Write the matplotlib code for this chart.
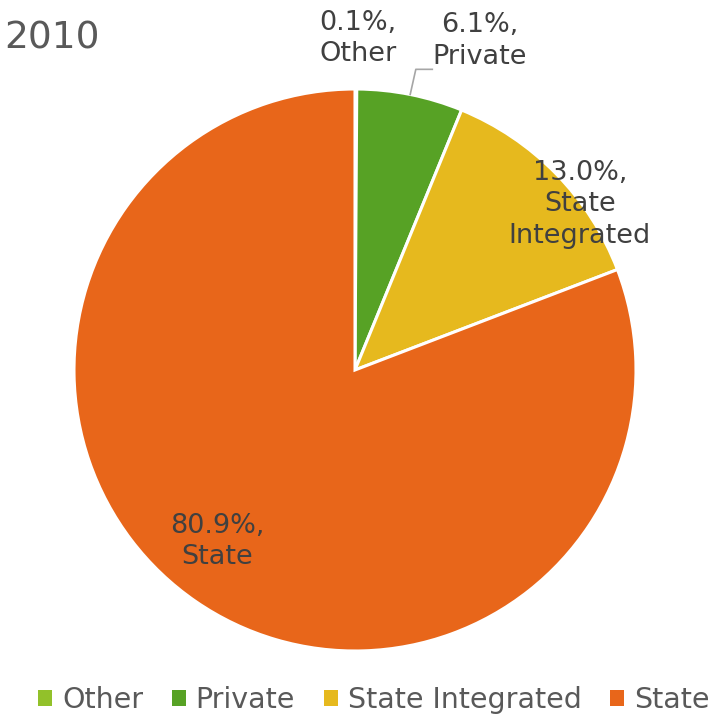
import numpy as np
import matplotlib.pyplot as plt

plt.rcParams["font.family"] = ["DejaVu Sans"]

# data
labels = ["Other", "Private", "State Integrated", "State"]
shares = [0.1, 6.1, 13.0, 80.9]
colors = ["#92c12a", "#57a225", "#e6b91e", "#e8661a"]
year = "2010"

fig = plt.figure(figsize=(7.16, 7.21), dpi=100)
ax = fig.add_axes([74 / 716, 70 / 721, 562 / 716, 562 / 721])

wedges, _ = ax.pie(shares, colors=colors, startangle=90, counterclock=False,
                   radius=1.0, wedgeprops=dict(edgecolor="white", linewidth=2.2))
ax.set_xlim(-1, 1)
ax.set_ylim(-1, 1)
ax.set_aspect("equal")
ax.axis("off")

txt_col = "#404040"
fs = 19.5
# label positions (data coords, pie radius = 1)
lab_pos = [(0.01, 1.18), (0.445, 1.17), (0.80, 0.59), (-0.49, -0.61)]
for w, lab, val, (lx, ly) in zip(wedges, labels, shares, lab_pos):
    name = lab.replace(" ", "\n")
    ax.text(lx, ly, f"{val:.1f}%,\n{name}", ha="center", va="center",
            fontsize=fs, color=txt_col, linespacing=1.28, clip_on=False)

# leader line for Private
w = wedges[1]
mid = np.deg2rad((w.theta1 + w.theta2) / 2)
ex, ey = np.cos(mid), np.sin(mid)
ax.plot([ex, ex + 0.02, 0.275], [ey, 1.07, 1.07], color="#a6a6a6", lw=1.2,
        clip_on=False)

fig.text(0.006, 0.947, year, fontsize=27, color="#595959", ha="left", va="center")

leg = fig.legend(wedges, labels, loc="center", bbox_to_anchor=(0.522, 0.029),
                 ncol=4, frameon=False, fontsize=20.5, handlelength=0.5,
                 handleheight=0.5, handletextpad=0.35, columnspacing=1.0,
                 labelcolor="#595959")
for h in leg.legend_handles:
    h.set_edgecolor("none")

fig.savefig("out.png", dpi=100)
